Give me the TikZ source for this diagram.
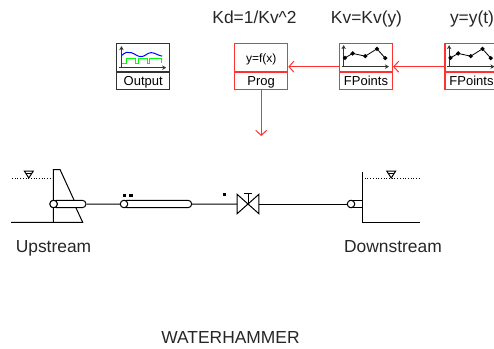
\documentclass[tikz,border=0pt]{standalone}
\usepackage{fontspec}
\setmainfont{Liberation Sans}
\usetikzlibrary{shapes.misc,arrows.meta,positioning,calc}
\definecolor{signalred}{RGB}{255,50,50}

% small plot with points, drawn in the upper cell of a block
\newcommand{\pointsicon}[1]{
    \begin{scope}[shift={(#1.north west)}]
        \draw [axis] (4.7,23.5) -- (4.7,2);
        \draw [axis] (3,23.5) -- (50,23.5);
        \draw [line width=0.8pt] (4.7,16) -- (6,14.7) -- (13.7,10.3) -- (26.3,13) -- (38,5.7) -- (46.3,15);
        \foreach \px/\py in {6/14.7,13.7/10.3,26.3/13,38/5.7,46.3/15}
            \fill (\px,\py) +(-2.3,0) -- +(0,-2.3) -- +(2.3,0) -- +(0,2.3) -- cycle;
    \end{scope}
}

\begin{document}
\begin{tikzpicture}[
    x=1pt, y=-1pt,
    block/.style={rectangle, draw=black!80, line width=1.1pt, inner sep=0pt, minimum width=53pt, minimum height=46pt},
    redblock/.style={block, draw=signalred},
    celltext/.style={inner sep=0pt, anchor=base, font=\fontsize{13}{13}\selectfont},
    title/.style={inner sep=0pt, anchor=base, font=\fontsize{17.4}{18}\selectfont, text=black!85},
    axis/.style={-{Stealth[length=4pt,width=4.5pt]}, line width=1pt, black!80},
    arrow/.style={-{Straight Barb[length=5pt,width=11pt]}, line width=1pt, signalred},
    pipe/.style={rounded rectangle, draw, line width=1pt, inner sep=0pt, minimum height=7.4pt},
    endcircle/.style={circle, draw, fill=white, line width=1pt, inner sep=0pt, minimum size=7.5pt},
    line/.style={line width=1pt},
    level/.style={dotted, line width=0.7pt},
    mark dot/.style={rectangle, fill=black, inner sep=0pt, minimum width=3.6pt, minimum height=3pt}
]
    \useasboundingbox (0,0) rectangle (494,348);

    % titles
    \node [title] (kd) at (254.5,23) {Kd=1/Kv\textasciicircum 2};
    \node [title] (kv) at (366.5,23) {Kv=Kv(y)};
    \node [title] (yt) at (472,23) {y=y(t)};

    % blocks
    \node [block] (output) at (143.2,66.7) {};
    \node [redblock] (prog) at (261.2,66.7) {};
    \node [redblock] (fpa) at (366,66.7) {};
    \node [redblock] (fpb) at (471.5,66.7) {};
    \draw [block] (output.west |- 0,72) -- (output.east |- 0,72);
    \draw [redblock] (prog.west |- 0,72) -- (prog.east |- 0,72);
    \draw [redblock] (fpa.west |- 0,72) -- (fpa.east |- 0,72);
    \draw [redblock] (fpb.west |- 0,72) -- (fpb.east |- 0,72);

    \node [celltext] (outputlabel) at (143.2,85.5) {Output};
    \node [celltext] (proglabel) at (261.2,85.5) {Prog};
    \node [celltext] (fpalabel) at (366,85.5) {FPoints};
    \node [celltext] (fpblabel) at (471.5,85.5) {FPoints};
    \node [celltext, font=\fontsize{12}{12}\selectfont] (progtext) at (261.2,62) {y=f(x)};

    % output icon
    \begin{scope}[shift={(output.north west)}]
        \draw [axis] (5.3,24.5) -- (5.3,3);
        \draw [axis] (2.5,24.5) -- (50,24.5);
        \draw [blue, line width=1pt] (6,12) .. controls (9,9) and (12,8.5) .. (15,9.5) .. controls (19,10.5) and (21,13.5) .. (25,13.5) .. controls (29,13.5) and (31,9.5) .. (35,9.5) .. controls (39,9.5) and (42,12.5) .. (46,13);
        \draw [green, line width=1pt] (6,20.3) -- (10.7,20.3) -- (10.7,15.6) -- (19,15.6) -- (19,20.3) -- (22.7,20.3) -- (22.7,15.6) -- (31,15.6) -- (31,20.3) -- (33.5,20.3) -- (33.5,15.6) -- (45,15.6) -- (45,20.3);
    \end{scope}

    \pointsicon{fpa}
    \pointsicon{fpb}

    % signal connections
    \coordinate (valvein) at (261.2,136);
    \draw [arrow] (fpb) -- (fpa);
    \draw [arrow] (fpa) -- (prog);
    \draw [arrow] (prog) -- (valvein);

    % hydraulic line
    \node [pipe, minimum width=33pt] (uppipe) at (69.5,204) {};
    \node [endcircle] (upend) at (53.6,204) {};
    \node [pipe, minimum width=69pt] (conduit) at (157.2,204) {};
    \node [endcircle] (conduitend) at (124,204) {};
    \node [inner sep=0pt, minimum width=21.4pt, minimum height=19pt] (valve) at (248,204) {};
    \node [pipe, rectangle, minimum width=13pt] (downpipe) at (355.5,204) {};
    \node [endcircle] (downend) at (351,204) {};

    \draw [line] (uppipe) -- (conduitend);
    \draw [line] (conduit) -- (valve);
    \draw [line] (valve) -- (downend);

    % valve
    \draw [line, line join=miter] (valve.north west) -- (valve.south east) -- (valve.north east) -- (valve.south west) -- cycle;
    \draw [line] (valve.center) -- (248,193.3);
    \draw [line] (244,193.3) -- (252,193.3);
    \node [mark dot] at (224.3,194.8) {};
    \node [mark dot] at (124.3,195) {};
    \node [mark dot] at (131,195) {};

    % upstream reservoir
    \draw [line] (53.3,222.3) -- (53.3,169.5) -- (60,169.5) -- (74,200);
    \draw [line] (76,208) -- (82.7,222.3) -- (11,222.3);
    \draw [level] (12,178.7) -- (53,178.7);
    \draw [line] (24.3,171) -- (33.3,171) -- (28.8,178) -- cycle;
    \draw [line] (25.5,173) -- (32,173);
    \node [endcircle] at (53.6,204) {};

    % downstream reservoir
    \draw [line] (362,171.7) -- (362,222.3) -- (419.5,222.3);
    \draw [level] (362,178.7) -- (420,178.7);
    \draw [line] (386.7,171) -- (395.7,171) -- (391.2,178) -- cycle;
    \draw [line] (388,173) -- (394.4,173);

    % names
    \node [title] (upstream) at (53.5,252.5) {Upstream};
    \node [title] (downstream) at (393,252.5) {Downstream};
    \node [title] (model) at (230.5,343.5) {WATERHAMMER};
\end{tikzpicture}
\end{document}
